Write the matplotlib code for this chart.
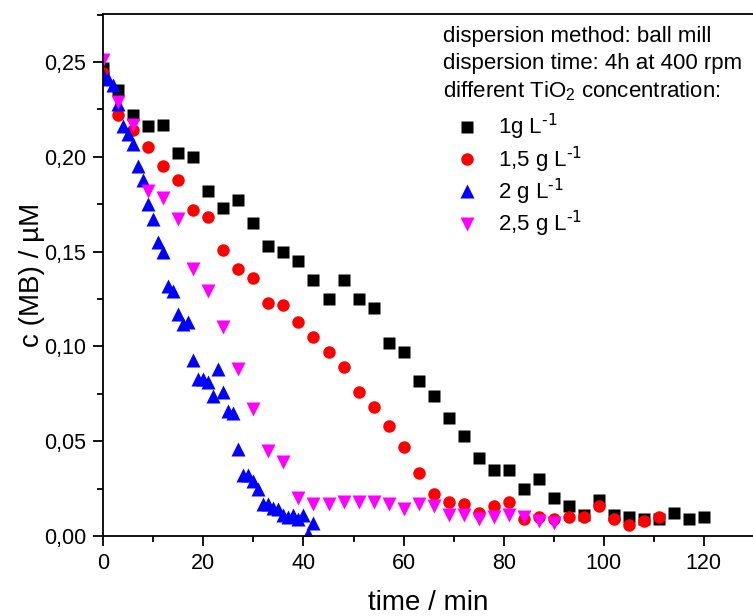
import matplotlib
matplotlib.use('Agg')
import matplotlib.pyplot as plt
from matplotlib.ticker import MultipleLocator, FuncFormatter

plt.rcParams['font.family'] = ['Liberation Sans', 'DejaVu Sans']
plt.rcParams['mathtext.default'] = 'regular'

# 1 g/L  (sampled every 3 min)
t_1 = list(range(0, 121, 3))
c_1 = [0.247, 0.235, 0.222, 0.216, 0.217, 0.202, 0.200, 0.182, 0.173, 0.177,
       0.165, 0.153, 0.150, 0.145, 0.135, 0.125, 0.135, 0.125, 0.120, 0.102,
       0.097, 0.082, 0.074, 0.062, 0.053, 0.041, 0.035, 0.035, 0.025, 0.030,
       0.020, 0.016, 0.011, 0.019, 0.011, 0.010, 0.009, 0.009, 0.012, 0.009,
       0.010]

# 1,5 g/L
t_15 = list(range(0, 112, 3))
c_15 = [0.244, 0.222, 0.214, 0.205, 0.195, 0.188, 0.172, 0.168, 0.151, 0.141,
        0.136, 0.123, 0.122, 0.113, 0.105, 0.097, 0.089, 0.076, 0.068, 0.058,
        0.047, 0.033, 0.022, 0.018, 0.017, 0.012, 0.016, 0.018, 0.009, 0.010,
        0.009, 0.010, 0.010, 0.016, 0.009, 0.006, 0.008, 0.010]

# 2 g/L  (every minute)
t_2 = list(range(0, 43))
c_2 = [0.243, 0.241, 0.238, 0.228, 0.216, 0.212, 0.207, 0.195, 0.188, 0.175,
       0.167, 0.155, 0.150, 0.132, 0.129, 0.117, 0.112, 0.113, 0.093, 0.083,
       0.083, 0.081, 0.074, 0.088, 0.076, 0.066, 0.065, 0.046, 0.032, 0.032,
       0.029, 0.025, 0.017, 0.017, 0.015, 0.014, 0.011, 0.010, 0.011, 0.009,
       0.011, 0.001, 0.007]

# 2,5 g/L
t_25 = list(range(0, 91, 3))
c_25 = [0.251, 0.229, 0.217, 0.182, 0.178, 0.167, 0.141, 0.129, 0.110, 0.088,
        0.067, 0.045, 0.039, 0.020, 0.017, 0.017, 0.018, 0.018, 0.018, 0.017,
        0.014, 0.017, 0.016, 0.011, 0.011, 0.009, 0.010, 0.011, 0.010, 0.008,
        0.007]

labels = ['1g L$^{\\text{-1}}$', '1,5 g L$^{\\text{-1}}$',
          '2 g L$^{\\text{-1}}$', '2,5 g L$^{\\text{-1}}$']
header = ['dispersion method: ball mill',
          'dispersion time: 4h at 400 rpm',
          'different TiO$_2$ concentration:']

fig = plt.figure(figsize=(7.53, 6.16), dpi=100)
ax = fig.add_axes([103.3/753, 80/616, 650.6/753, 522/616])

ax.plot(t_1, c_1, 's', color='black', ms=8.3, mec='none', label=labels[0])
ax.plot(t_15, c_15, 'o', color='#ff0000', ms=9, mec='none', label=labels[1])
ax.plot(t_2, c_2, '^', color='#0000ff', ms=10.5, mec='none', label=labels[2])
ax.plot(t_25, c_25, 'v', color='#ff00ff', ms=10.5, mec='none', label=labels[3])

ax.set_xlim(0, 130)
ax.set_ylim(0, 0.2753)
ax.xaxis.set_major_locator(MultipleLocator(20))
ax.xaxis.set_minor_locator(MultipleLocator(10))
ax.yaxis.set_major_locator(MultipleLocator(0.05))
ax.yaxis.set_minor_locator(MultipleLocator(0.025))
ax.yaxis.set_major_formatter(FuncFormatter(lambda v, p: ('%.2f' % v).replace('.', ',')))

ax.spines['right'].set_visible(False)
for s in ['left', 'bottom', 'top']:
    ax.spines[s].set_linewidth(1.3)
ax.tick_params(which='both', direction='out', width=1.3, labelsize=15.5, pad=5,
               top=False, right=False)
ax.tick_params(which='major', length=7.5)
ax.tick_params(which='minor', length=4.5)

ax.set_xlabel('time / min', fontsize=20, labelpad=11)
ax.set_ylabel('c (MB) / µM', fontsize=20, labelpad=-1)

# header text above the legend
for i, line in enumerate(header):
    fig.text(442.7/753, 1 - (41.7 + 27.8*i)/616, line, fontsize=16,
             ha='left', va='baseline')

ax.legend(loc='upper left', bbox_to_anchor=(455.6/753, 1 - 112/616),
          bbox_transform=fig.transFigure, frameon=False, fontsize=16,
          numpoints=1, handlelength=1.0, handletextpad=0.92,
          labelspacing=0.1, borderpad=0, borderaxespad=0)

fig.savefig('out.png', dpi=100)
